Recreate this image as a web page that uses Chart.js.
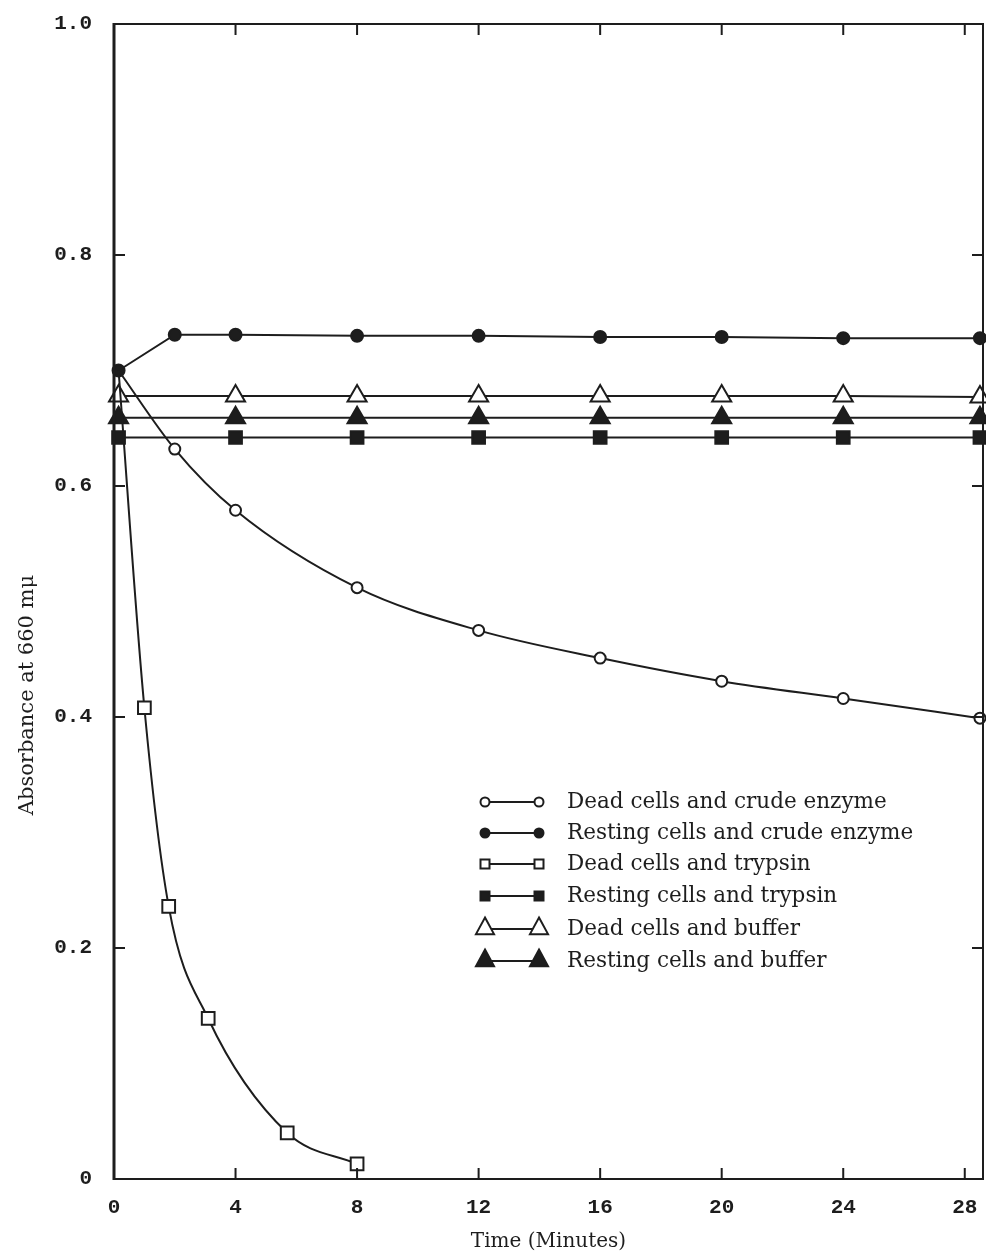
<!DOCTYPE html>
<html>
<head>
<meta charset="utf-8">
<script src="https://cdn.jsdelivr.net/npm/chart.js@4.4.0/dist/chart.umd.min.js"></script>
<style>
  html, body { margin: 0; padding: 0; background: #ffffff; }
  #wrap { width: 986px; height: 1260px; position: relative; }
</style>
</head>
<body>
<div id="wrap"><canvas id="c" width="986" height="1260"></canvas></div>
<script>
// ---------------- data ----------------
const xTickValues = [0, 4, 8, 12, 16, 20, 24, 28];
const yTickValues = [0, 0.2, 0.4, 0.6, 0.8, 1.0];

const seriesLabels = [
  'Dead cells and crude enzyme',
  'Resting cells and crude enzyme',
  'Dead cells and trypsin',
  'Resting cells and trypsin',
  'Dead cells and buffer',
  'Resting cells and buffer'
];

const deadCrudeX = [0.15, 2, 4, 8, 12, 16, 20, 24, 28.5];
const deadCrudeY = [0.700, 0.632, 0.579, 0.512, 0.475, 0.451, 0.431, 0.416, 0.399];

const restCrudeX = [0.15, 2, 4, 8, 12, 16, 20, 24, 28.5];
const restCrudeY = [0.700, 0.731, 0.731, 0.730, 0.730, 0.729, 0.729, 0.728, 0.728];

const deadTrypX = [0.15, 1, 1.8, 3.1, 5.7, 8];
const deadTrypY = [0.700, 0.408, 0.236, 0.139, 0.040, 0.013];

const restTrypX = [0.15, 4, 8, 12, 16, 20, 24, 28.5];
const restTrypY = [0.642, 0.642, 0.642, 0.642, 0.642, 0.642, 0.642, 0.642];

const deadBufX = [0.15, 4, 8, 12, 16, 20, 24, 28.5];
const deadBufY = [0.678, 0.678, 0.678, 0.678, 0.678, 0.678, 0.678, 0.677];

const restBufX = [0.15, 4, 8, 12, 16, 20, 24, 28.5];
const restBufY = [0.659, 0.659, 0.659, 0.659, 0.659, 0.659, 0.659, 0.659];

const xTitle = 'Time (Minutes)';
const yTitle = 'Absorbance at 660 m\u03bc';

// ---------------- styling ----------------
const ink = '#1d1d1d';
const serif = '"DejaVu Serif", "Liberation Serif", serif';
const mono = '"Liberation Mono", "DejaVu Sans Mono", monospace';

function makeSet(label, xs, ys, style, filled, radius, curved, hideFirst) {
  return {
    label: label,
    data: xs.map((x, i) => ({ x: x, y: ys[i] })),
    showLine: true,
    borderColor: ink,
    borderWidth: 2,
    pointStyle: style,
    pointRadius: xs.map((_, i) => (hideFirst && i === 0) ? 0 : radius),
    pointHoverRadius: xs.map((_, i) => (hideFirst && i === 0) ? 0 : radius),
    pointBackgroundColor: filled ? ink : '#ffffff',
    pointBorderColor: ink,
    pointBorderWidth: 2,
    cubicInterpolationMode: curved ? 'monotone' : 'default',
    tension: 0,
    clip: false,
    _legend: { style: style, filled: filled }
  };
}

const datasets = [
  makeSet(seriesLabels[0], deadCrudeX, deadCrudeY, 'circle', false, 5.5, true, true),
  makeSet(seriesLabels[2], deadTrypX, deadTrypY, 'rect', false, 9, true, true),
  makeSet(seriesLabels[1], restCrudeX, restCrudeY, 'circle', true, 6, false, false),
  makeSet(seriesLabels[4], deadBufX, deadBufY, 'triangle', false, 11, false, false),
  makeSet(seriesLabels[5], restBufX, restBufY, 'triangle', true, 11, false, false),
  makeSet(seriesLabels[3], restTrypX, restTrypY, 'rect', true, 9, false, false)
];

// ---------------- plugins ----------------
const frameAndTicks = {
  id: 'frameAndTicks',
  afterDatasetsDraw(chart) {
    const { ctx, chartArea: a, scales } = chart;
    const xs = scales.x, ys = scales.y;
    ctx.save();
    ctx.strokeStyle = ink;
    ctx.lineCap = 'butt';
    ctx.lineWidth = 2;
    ctx.beginPath();
    ctx.moveTo(a.left, a.top); ctx.lineTo(a.right, a.top);
    ctx.moveTo(a.right, a.top - 1); ctx.lineTo(a.right, a.bottom + 1);
    ctx.moveTo(a.left, a.bottom); ctx.lineTo(a.right, a.bottom);
    ctx.stroke();
    ctx.lineWidth = 3;
    ctx.beginPath();
    ctx.moveTo(a.left, a.top - 1); ctx.lineTo(a.left, a.bottom + 1);
    ctx.stroke();
    const L = 11;
    ctx.lineWidth = 2;
    ctx.beginPath();
    xTickValues.forEach(v => {
      const px = xs.getPixelForValue(v);
      if (v !== 0) {
        ctx.moveTo(px, a.bottom); ctx.lineTo(px, a.bottom - L);
        ctx.moveTo(px, a.top); ctx.lineTo(px, a.top + L);
      }
    });
    yTickValues.forEach(v => {
      const py = ys.getPixelForValue(v);
      if (v !== 0 && v !== 1) {
        ctx.moveTo(a.left, py); ctx.lineTo(a.left + L, py);
        ctx.moveTo(a.right, py); ctx.lineTo(a.right - L, py);
      }
    });
    ctx.stroke();
    ctx.restore();
  }
};

function drawMarker(ctx, style, filled, x, y, r) {
  ctx.beginPath();
  if (style === 'circle') {
    ctx.arc(x, y, r, 0, Math.PI * 2);
  } else if (style === 'rect') {
    ctx.rect(x - r, y - r, 2 * r, 2 * r);
  } else {
    ctx.moveTo(x, y - r);
    ctx.lineTo(x + r * 0.95, y + r * 0.75);
    ctx.lineTo(x - r * 0.95, y + r * 0.75);
    ctx.closePath();
  }
  ctx.fillStyle = filled ? ink : '#ffffff';
  ctx.fill();
  ctx.lineWidth = 2;
  ctx.strokeStyle = ink;
  ctx.stroke();
}

const legendOrder = [0, 2, 1, 5, 3, 4];
const legendRows = [802, 833, 864, 896, 929, 961];
const legendMarkerSize = { circle: 4.5, rect: 4.5, triangle: 9.5 };

const customLegend = {
  id: 'customLegend',
  afterDraw(chart) {
    const ctx = chart.ctx;
    ctx.save();
    legendOrder.forEach((di, row) => {
      const d = chart.data.datasets[di];
      const y = legendRows[row];
      const x1 = 485, x2 = 539;
      ctx.strokeStyle = ink;
      ctx.lineWidth = 2;
      ctx.beginPath();
      ctx.moveTo(x1, y); ctx.lineTo(x2, y);
      ctx.stroke();
      const r = legendMarkerSize[d._legend.style];
      const cy = d._legend.style === 'triangle' ? y - 2 : y;
      drawMarker(ctx, d._legend.style, d._legend.filled, x1, cy, r);
      drawMarker(ctx, d._legend.style, d._legend.filled, x2, cy, r);
      ctx.fillStyle = ink;
      ctx.font = '21.5px ' + serif;
      ctx.textBaseline = 'middle';
      ctx.textAlign = 'left';
      ctx.fillText(d.label, 567, y);
    });
    ctx.translate(28, 695);
    ctx.rotate(-Math.PI / 2);
    ctx.font = '21px ' + serif;
    ctx.textAlign = 'center';
    ctx.textBaseline = 'middle';
    ctx.fillText(yTitle, 0, 0);
    ctx.restore();
  }
};

// ---------------- chart ----------------
new Chart(document.getElementById('c'), {
  type: 'scatter',
  data: { datasets: datasets },
  options: {
    responsive: false,
    animation: false,
    devicePixelRatio: 1,
    events: [],
    layout: { autoPadding: false, padding: { left: 0, right: 3, top: 24, bottom: 0 } },
    plugins: { legend: { display: false }, tooltip: { enabled: false } },
    scales: {
      x: {
        type: 'linear',
        min: 0,
        max: 28.6,
        afterBuildTicks: s => { s.ticks = xTickValues.map(v => ({ value: v })); },
        afterFit: s => { s.height = 81; s.paddingLeft = 0; s.paddingRight = 0; },
        grid: { display: false, drawTicks: false },
        border: { display: false },
        ticks: {
          padding: 16,
          color: ink,
          font: { family: mono, size: 21, weight: 'bold' },
          callback: v => String(v)
        },
        title: {
          display: true,
          text: xTitle,
          color: ink,
          font: { family: serif, size: 20 },
          padding: { top: 8, bottom: 6 }
        }
      },
      y: {
        type: 'linear',
        min: 0,
        max: 1.0,
        afterBuildTicks: s => { s.ticks = yTickValues.map(v => ({ value: v })); },
        afterFit: s => { s.width = 114; s.paddingTop = 0; s.paddingBottom = 0; },
        grid: { display: false, drawTicks: false },
        border: { display: false },
        ticks: {
          padding: 22,
          color: ink,
          font: { family: mono, size: 21, weight: 'bold' },
          callback: v => (v === 0 ? '0' : v.toFixed(1))
        }
      }
    }
  },
  plugins: [frameAndTicks, customLegend]
});
</script>
</body>
</html>
